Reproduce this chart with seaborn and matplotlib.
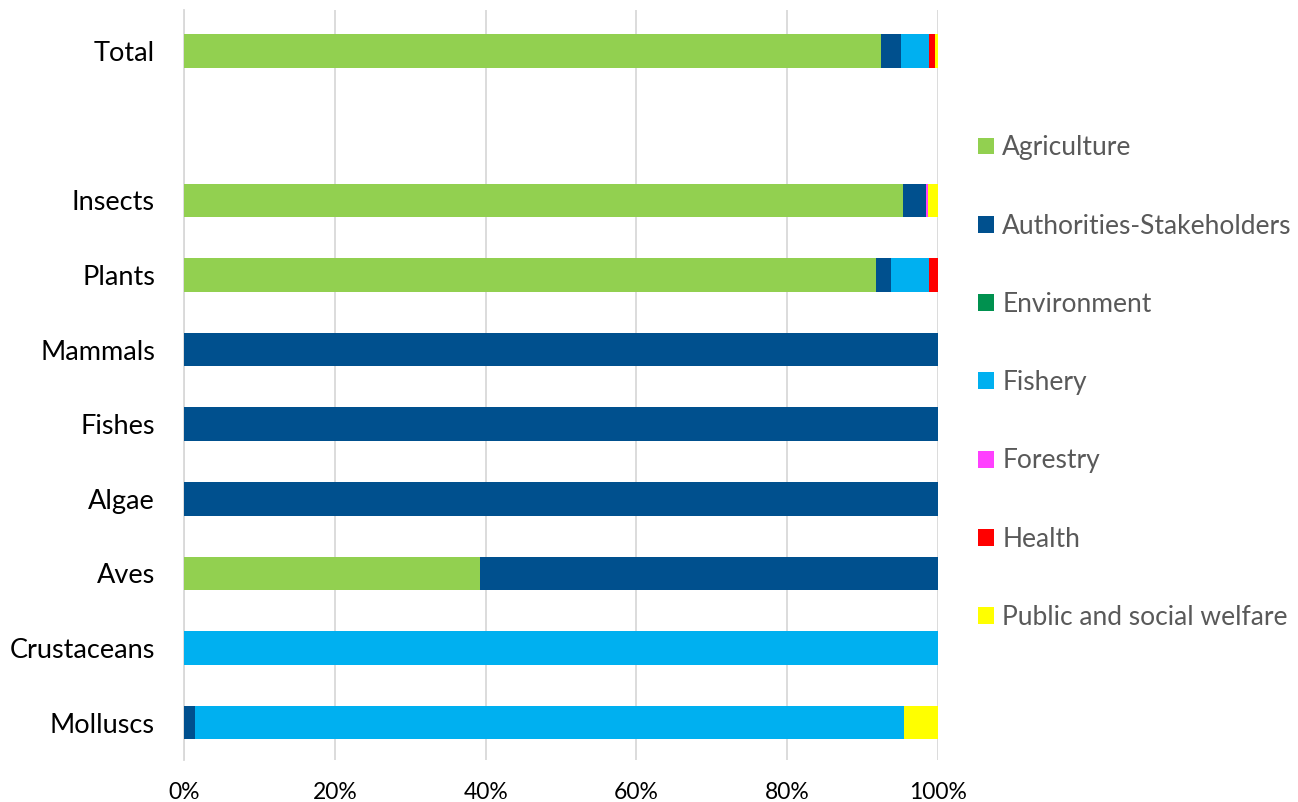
import numpy as np
import pandas as pd
import matplotlib.pyplot as plt
import seaborn as sns
from matplotlib.patches import Patch
from matplotlib.ticker import PercentFormatter

# ------------------------
# Data (share of each sector, %)
# ------------------------
categories = ["Total", " ", "Insects", "Plants", "Mammals", "Fishes",
              "Algae", "Aves", "Crustaceans", "Molluscs"]
agriculture = [92.4, 0, 95.4, 91.8, 0, 0, 0, 39.3, 0, 0]
authorities = [2.7, 0, 3.0, 2.0, 100, 100, 100, 60.7, 0, 1.5]
environment = [0, 0, 0, 0, 0, 0, 0, 0, 0, 0]
fishery = [3.7, 0, 0, 5.0, 0, 0, 0, 0, 100, 94.0]
forestry = [0, 0, 0.2, 0, 0, 0, 0, 0, 0, 0]
health = [0.8, 0, 0, 1.2, 0, 0, 0, 0, 0, 0]
public = [0.4, 0, 1.4, 0, 0, 0, 0, 0, 0, 4.5]

sectors = ["Agriculture", "Authorities-Stakeholders", "Environment", "Fishery",
           "Forestry", "Health", "Public and social welfare"]
colors = ["#92D050", "#00508E", "#00914F", "#00B0F0", "#FF40FF", "#FF0000", "#FFFF00"]

df = pd.DataFrame({"category": categories,
                   "Agriculture": agriculture,
                   "Authorities-Stakeholders": authorities,
                   "Environment": environment,
                   "Fishery": fishery,
                   "Forestry": forestry,
                   "Health": health,
                   "Public and social welfare": public})
cum = df[sectors].cumsum(axis=1)
cum["category"] = df["category"]

# ------------------------
# Plot
# ------------------------
sns.set_style("white")
plt.rcParams["font.family"] = ["Lato", "DejaVu Sans"]

fig = plt.figure(figsize=(12.98, 8.02), dpi=100)
ax = fig.add_axes([0.1418, 0.0524, 0.5809, 0.9351])

# stacked bars: draw cumulative totals from the largest down
for sec, col in reversed(list(zip(sectors, colors))):
    sns.barplot(data=cum, x=sec, y="category", order=categories, orient="h",
                color=col, saturation=1, width=0.45, edgecolor="none",
                linewidth=0, ax=ax, zorder=3)

ax.set_xlim(0, 100)
ax.set_ylim(9.5, -0.55)
ax.set_xticks(np.arange(0, 101, 20))
ax.xaxis.set_major_formatter(PercentFormatter(decimals=0))
ax.grid(axis="x", color="#D9D9D9", linewidth=1.3, zorder=0)
ax.set_axisbelow(True)
for s in ["top", "right", "bottom"]:
    ax.spines[s].set_visible(False)
ax.spines["left"].set_color("#D9D9D9")
ax.spines["left"].set_linewidth(1.3)
ax.set_xlabel("")
ax.set_ylabel("")
ax.tick_params(axis="y", labelsize=19.5, length=0, pad=21, labelcolor="black")
ax.tick_params(axis="x", labelsize=16.5, length=0, pad=16, labelcolor="black")

handles = [Patch(facecolor=c, edgecolor="none") for c in colors]
fig.legend(handles, sectors, loc="upper left", bbox_to_anchor=(0.7355, 0.861),
           frameon=False, fontsize=19, labelcolor="#595959",
           handlelength=0.6, handleheight=0.6, handletextpad=0.3,
           labelspacing=2.02)

fig.savefig("out.png", dpi=100)
